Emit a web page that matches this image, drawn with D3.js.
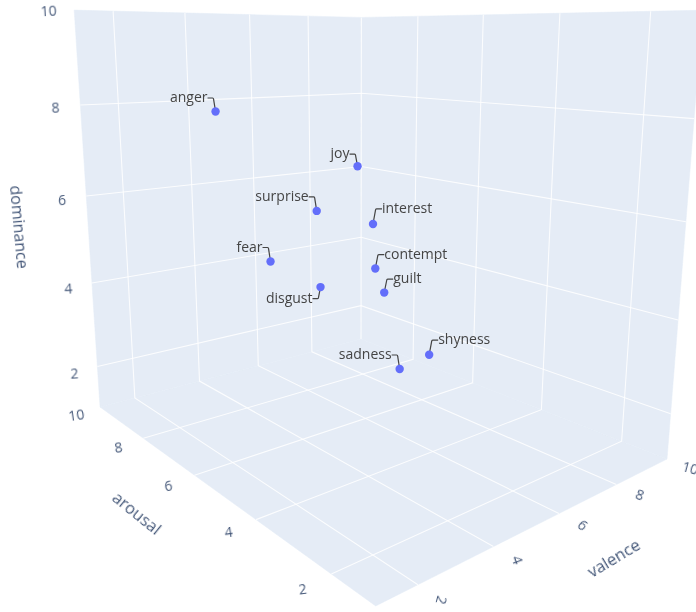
<!DOCTYPE html>
<html>
<head>
<meta charset="utf-8">
<script src="https://cdn.jsdelivr.net/npm/d3@7"></script>
<style>
html, body { margin: 0; padding: 0; background: #fff; }
svg { display: block; font-family: "Open Sans", sans-serif; filter: blur(0.35px); }
.soft { filter: blur(0.45px); }
</style>
</head>
<body>
<div id="chart"></div>
<script>
'use strict';

var w = 696;
var h = 612;

// values
var emotions = [ 'anger', 'joy', 'surprise', 'interest', 'fear', 'contempt', 'disgust', 'guilt', 'sadness', 'shyness' ];
var valence = [ 2.5, 8, 5, 6.5, 3.5, 4, 2.5, 3.5, 2.5, 4 ];
var arousal = [ 6.87, 8.2, 6.54, 6.25, 6.4, 3.84, 3.79, 3.15, 1.88, 2.5 ];
var dominance = [ 8.02, 6.37, 5.82, 5.42, 4.93, 5.27, 5.15, 5.05, 4.23, 3.99 ];

var ticks = [ 2, 4, 6, 8, 10 ];
var domain = [ 1, 10 ];

// which way each label sits from its point, and how far up (down for disgust)
var labelSide = [ 'l', 'l', 'l', 'r', 'l', 'r', 'd', 'r', 'l', 'r' ];
var labelRise = [ 13.5, 12, 14, 15, 14, 14, 11.5, 13.5, 14, 14.5 ];

var u = d3.scaleLinear().domain(domain).range([ 0, 1 ]);

// camera: homogeneous map of the unit box, fitted to the box corners
var proj = {
	ox: 375.7, oy: 606,
	ax: 528.8, ay: 16.4,
	bx: -222.35, by: 18.1,
	cx: -50, cy: -610,
	da: 0.356, db: 0.5335, dc: -0.14
};

var project = function(x, y, z) {
	var a = u(x), b = u(y), c = u(z);
	var d = 1 + proj.da * a + proj.db * b + proj.dc * c;
	return [
		(proj.ox + proj.ax * a + proj.bx * b + proj.cx * c) / d,
		(proj.oy + proj.ay * a + proj.by * b + proj.cy * c) / d
	];
};

var svg = d3.select('#chart')
	.append('svg')
	.attr('width', w)
	.attr('height', h);

var lo = domain[0], hi = domain[1];

// the three walls
var walls = [
	[ [lo, lo, lo], [hi, lo, lo], [hi, hi, lo], [lo, hi, lo] ],
	[ [lo, hi, lo], [hi, hi, lo], [hi, hi, hi], [lo, hi, hi] ],
	[ [hi, hi, lo], [hi, lo, lo], [hi, lo, hi], [hi, hi, hi] ]
];

svg.selectAll('.wall')
	.data(walls)
	.enter()
	.append('polygon')
	.attr('class', 'wall')
	.attr('fill', '#e5ecf6')
	.attr('stroke', '#e5ecf6')
	.attr('stroke-width', 0.5)
	.attr('points', function(d) {
		return d.map(function(p) { return project(p[0], p[1], p[2]).join(','); }).join(' ');
	});

// gridlines, each one bent across two walls
var grid = [ [ [hi, hi, lo], [hi, hi, hi] ] ];
ticks.filter(function(t) { return t < hi; }).forEach(function(t) {
	grid.push([ [t, lo, lo], [t, hi, lo], [t, hi, hi] ]);
	grid.push([ [lo, t, lo], [hi, t, lo], [hi, t, hi] ]);
	grid.push([ [lo, hi, t], [hi, hi, t], [hi, lo, t] ]);
});

var line = d3.line();

svg.selectAll('.grid')
	.data(grid)
	.enter()
	.append('path')
	.attr('class', 'grid')
	.attr('fill', 'none')
	.attr('stroke', '#fff')
	.attr('stroke-opacity', 0.85)
	.attr('stroke-width', 1.1)
	.attr('d', function(d) {
		return line(d.map(function(p) { return project(p[0], p[1], p[2]); }));
	});

// tick labels sit a little way out along the neighbouring axis
var tickText = function(pos, angle) {
	return svg.selectAll(null)
		.data(ticks)
		.enter()
		.append('text')
		.attr('class', 'soft')
		.attr('text-anchor', 'middle')
		.attr('dy', '0.35em')
		.attr('font-size', 14)
		.attr('fill', '#46597a')
		.text(function(d) { return d; })
		.attr('transform', function(d) {
			var p = pos(d);
			return 'translate(' + p[0] + ',' + p[1] + ') rotate(' + angle(d) + ')';
		});
};

var valenceAngle = { 2: 105, 4: 70, 6: 40, 8: 20, 10: 15 };
tickText(function(d) { return project(d, lo - 0.48, lo); }, function(d) { return valenceAngle[d]; });
tickText(function(d) {
	var p = project(lo - 0.65, d, lo);
	return [ p[0], p[1] + 2 ];
}, function() { return -8; });
tickText(function(d) {
	var p = project(lo - 0.65, hi, d);
	return [ p[0] + 1, p[1] + 1.5 ];
}, function() { return -3; });

var titles = [
	{ text: 'valence', x: 613.7, y: 558, r: -31, size: 16.5 },
	{ text: 'arousal', x: 137, y: 513, r: 39, size: 16.5 },
	{ text: 'dominance', x: 19.5, y: 227, r: 85, size: 16 }
];

svg.selectAll('.title')
	.data(titles)
	.enter()
	.append('text')
	.attr('class', 'title soft')
	.attr('text-anchor', 'middle')
	.attr('dy', '0.35em')
	.attr('font-size', function(d) { return d.size; })
	.attr('fill', '#46597a')
	.attr('transform', function(d) { return 'translate(' + d.x + ',' + d.y + ') rotate(' + d.r + ')'; })
	.text(function(d) { return d.text; });

var points = emotions.map(function(name, i) {
	var p = project(valence[i], arousal[i], dominance[i]);
	return { name: name, side: labelSide[i], rise: labelRise[i], x: p[0], y: p[1] };
});

// leader from the text to the point, with a small round bend
var leader = function(d) {
	var path = d3.path();
	var ex = d.side === 'r' ? 2.5 : -2;
	var gap = d.side === 'r' ? 6.5 : -6;
	var ey = d.side === 'd' ? d.rise : -d.rise;
	var sy = d.side === 'd' ? -1.2 : 1.2;
	path.moveTo(d.x + ex + gap, d.y + ey);
	path.lineTo(d.x + ex + gap / 6, d.y + ey);
	path.quadraticCurveTo(d.x + ex, d.y + ey, d.x + ex, d.y + ey + sy);
	path.lineTo(d.x, d.y);
	return path.toString();
};

svg.selectAll('.leader')
	.data(points)
	.enter()
	.append('path')
	.attr('class', 'leader')
	.attr('fill', 'none')
	.attr('stroke', '#444')
	.attr('stroke-width', 1.2)
	.attr('d', leader);

svg.selectAll('.point')
	.data(points)
	.enter()
	.append('circle')
	.attr('class', 'point')
	.attr('cx', function(d) { return d.x; })
	.attr('cy', function(d) { return d.y; })
	.attr('r', 4.2)
	.attr('fill', '#636efa');

svg.selectAll('.label')
	.data(points)
	.enter()
	.append('text')
	.attr('class', 'label')
	.attr('font-size', 14)
	.attr('fill', '#444')
	.attr('dy', '0.3em')
	.attr('text-anchor', function(d) { return d.side === 'r' ? 'start' : 'end'; })
	.attr('x', function(d) { return d.side === 'r' ? d.x + 9 : d.x - 8; })
	.attr('y', function(d) { return d.side === 'd' ? d.y + d.rise : d.y - d.rise; })
	.text(function(d) { return d.name; });
</script>
</body>
</html>
